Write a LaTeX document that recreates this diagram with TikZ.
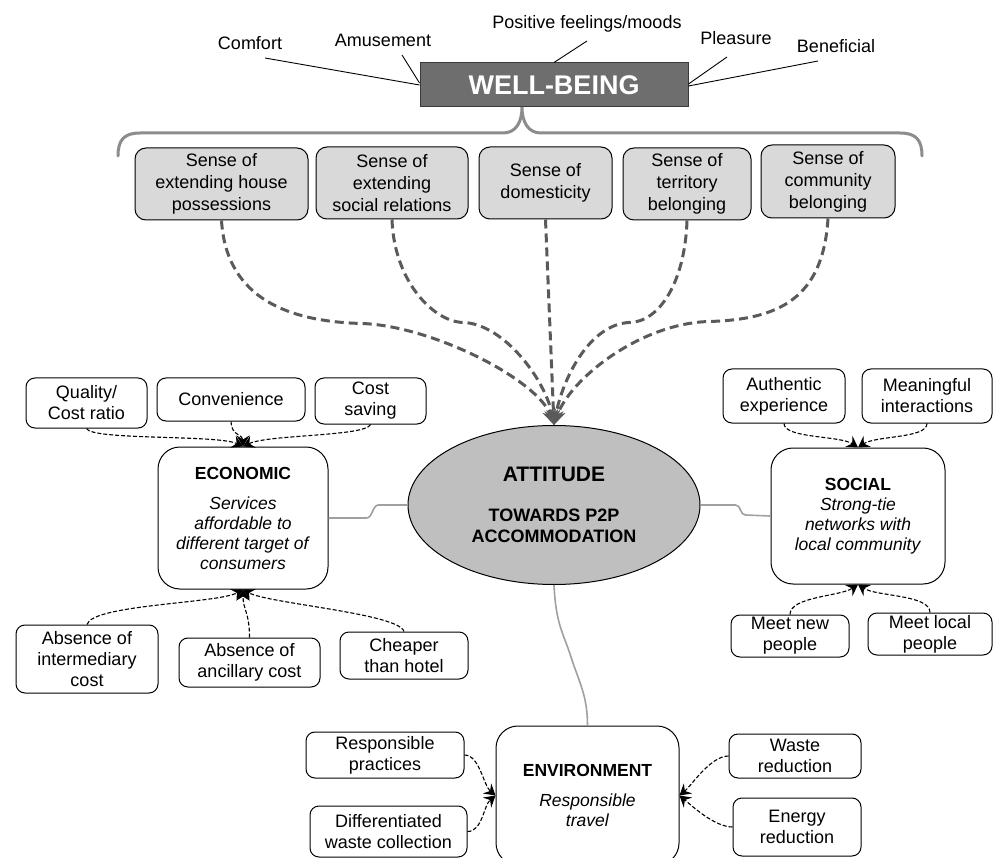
\documentclass[tikz,border=0pt]{standalone}
\usepackage{fontspec}
\setmainfont{Liberation Sans}
\usetikzlibrary{shapes.geometric,arrows.meta}
\definecolor{wbfill}{HTML}{6E6E6E}
\definecolor{wbedge}{HTML}{3A3A3A}
\definecolor{sensefill}{HTML}{D9D9D9}
\definecolor{ellfill}{HTML}{BFBFBF}
\definecolor{bracegray}{HTML}{8C8C8C}
\definecolor{flowgray}{HTML}{5A5A5A}
\definecolor{linkgray}{HTML}{A0A0A0}

\begin{document}
\begin{tikzpicture}[x=1pt,y=-1pt,
  every node/.style={font=\fontsize{18}{21}\selectfont, inner sep=0pt},
  sz/.style 2 args={minimum width=#1pt, minimum height=#2pt},
  box/.style={draw, rounded corners=9pt, line width=1pt, align=center},
  sensebox/.style={box, fill=sensefill, rounded corners=11pt, font=\fontsize{18}{22}\selectfont},
  bigbox/.style={draw, rounded corners=22pt, line width=1pt, align=center, fill=white, font=\fontsize{17.5}{20}\selectfont},
  feed/.style={draw, line width=1.1pt, dash pattern=on 4pt off 2pt, -{Stealth[length=11pt,width=13pt,inset=4pt,line width=1pt]}},
  flow/.style={draw=flowgray, line width=3pt, dash pattern=on 9pt off 5pt, -{Stealth[length=15pt,width=14pt]}},
  link/.style={draw=linkgray, line width=1.6pt},
  tick/.style={draw, line width=0.9pt},
]
\fill[white] (0,0) rectangle (993,858);
\useasboundingbox (0,0) rectangle (993,858);

% ---- well-being and its qualities
\node[draw=wbedge, fill=wbfill, line width=1pt, sz={268}{44}, text=white,
      font=\bfseries\fontsize{27}{30}\selectfont] (wb) at (554,85) {WELL-BEING};

\node (comfort)  at (250,43)   {Comfort};
\node (amuse)    at (383,40)   {Amusement};
\node (positive) at (587,24)   {Positive feelings/moods};
\node (pleasure) at (736,38)   {Pleasure};
\node (benef)    at (836,46)   {Beneficial};

\coordinate (comfortEnd)  at (265,58);
\coordinate (amuseEnd)    at (402,55);
\coordinate (positiveEnd) at (587,41);
\coordinate (pleasureEnd) at (727,57);
\coordinate (benefEnd)    at (818,61);

\draw[tick] (comfortEnd) -- (wb.west);
\draw[tick] (amuseEnd) -- ([yshift=2pt]wb.west);
\draw[tick] (positiveEnd) -- (wb.north);
\draw[tick] (pleasureEnd) -- ([yshift=1pt]wb.east);
\draw[tick] (benefEnd) -- ([yshift=-1pt]wb.east);

% ---- brace grouping the senses
\draw[bracegray, line width=3pt, line cap=round]
  (118,156) .. controls (118,140) and (124,133) .. (140,133) -- (503,133)
  .. controls (516,133) and (522,122) .. (522,107)
  .. controls (522,122) and (528,133) .. (541,133) -- (900,133)
  .. controls (916,133) and (922,140) .. (922,156);

% ---- senses
\node[sensebox, sz={173}{72}] (s1) at (221.5,184) {Sense of\\extending house\\possessions};
\node[sensebox, sz={152}{72}] (s2) at (392,183)   {Sense of\\extending\\social relations};
\node[sensebox, sz={133}{72}] (s3) at (545.5,183) {Sense of\\domesticity};
\node[sensebox, sz={128}{72}] (s4) at (687,184)   {Sense of\\territory\\belonging};
\node[sensebox, sz={134}{73}] (s5) at (828,181.5) {Sense of\\community\\belonging};

% ---- attitude
\node[ellipse, draw, fill=ellfill, line width=1pt, sz={292}{159}, align=center,
      font=\bfseries\fontsize{18}{21}\selectfont] (att) at (554,505)
  {{\fontsize{21}{25}\selectfont ATTITUDE}\\[19pt]TOWARDS P2P\\ACCOMMODATION};

\draw[flow] (s1.south) .. controls +(5,80) and +(-70,-2) .. ++(140,103)
            .. controls +(70,2) and +(-15,-45) .. (att.north);
\draw[flow] (s2.south) .. controls +(2,62) and +(-30,0) .. ++(72,103)
            .. controls +(40,2) and +(-8,-45) .. (att.north);
\draw[flow] (s3.south) -- (att.north);
\draw[flow] (s4.south) .. controls +(-2,62) and +(30,0) .. ++(-58,102)
            .. controls +(-40,2) and +(8,-45) .. (att.north);
\draw[flow] (s5.south) .. controls +(-5,80) and +(70,-2) .. ++(-119,103)
            .. controls +(-70,2) and +(15,-45) .. (att.north);

% ---- economic
\node[bigbox, sz={170}{142}] (econ) at (243,518)
  {\textbf{ECONOMIC}\\[10pt]\textit{Services}\\\textit{affordable to}\\\textit{different target of}\\\textit{consumers}};
\node[box, sz={121}{50}] (qual)   at (86.5,403)   {Quality/\\Cost ratio};
\node[box, sz={148}{43}] (conv)   at (231,399.5)  {Convenience};
\node[box, sz={111}{46}] (cost)   at (370.5,401)  {Cost\\saving};
\node[box, sz={142}{68}] (absint) at (87,659)     {Absence of\\intermediary\\cost};
\node[box, sz={141}{49}] (absanc) at (249.5,662.5){Absence of\\ancillary cost};
\node[box, sz={128}{47}] (cheap)  at (404,655.5)  {Cheaper\\than hotel};

\draw[feed] (qual.south) .. controls +(5,12) and +(-25,-12) .. (econ.north);
\draw[feed] (conv.south) .. controls +(0,14) and +(0,-12) .. (econ.north);
\draw[feed] (cost.south) .. controls +(-5,12) and +(25,-12) .. (econ.north);
\draw[feed] (absint.north) .. controls +(5,-20) and +(-25,14) .. (econ.south);
\draw[feed] (absanc.north) .. controls +(0,-25) and +(0,20) .. (econ.south);
\draw[feed] (cheap.north) .. controls +(-5,-18) and +(25,14) .. (econ.south);

% ---- social
\node[bigbox, sz={174}{136}] (social) at (858,516)
  {\textbf{SOCIAL}\\\textit{Strong-tie}\\\textit{networks with}\\\textit{local community}};
\node[box, sz={122}{54}] (auth)    at (784,396) {Authentic\\experience};
\node[box, sz={130}{54}] (mean)    at (927,396) {Meaningful\\interactions};
\node[box, sz={118}{42}] (meetnew) at (790,636) {Meet new\\people};
\node[box, sz={124}{42}] (meetloc) at (930,634) {Meet local\\people};

\draw[feed] (auth.south) .. controls +(0,15) and +(-18,-12) .. (social.north);
\draw[feed] (mean.south) .. controls +(0,15) and +(18,-12) .. (social.north);
\draw[feed] (meetnew.north) .. controls +(0,-18) and +(-18,12) .. (social.south);
\draw[feed] (meetloc.north) .. controls +(0,-18) and +(18,12) .. (social.south);

% ---- environment
\node[bigbox, sz={183}{139}] (env) at (587.5,795.5)
  {\textbf{ENVIRONMENT}\\[10pt]\textit{Responsible}\\\textit{travel}};
\node[box, sz={158}{46}] (resp)   at (385,755)   {Responsible\\practices};
\node[box, sz={157}{51}] (diff)   at (388.5,831.5) {Differentiated\\waste collection};
\node[box, sz={132}{44}] (waste)  at (795,756)   {Waste\\reduction};
\node[box, sz={128}{58}] (energy) at (797,827)   {Energy\\reduction};

\draw[feed] (resp.east) .. controls +(15,0) and +(-12,-10) .. (env.west);
\draw[feed] (diff.east) .. controls +(15,0) and +(-12,10) .. (env.west);
\draw[feed] (waste.west) .. controls +(-18,0) and +(12,-10) .. (env.east);
\draw[feed] (energy.west) .. controls +(-18,0) and +(12,10) .. (env.east);

% ---- links between the dimensions and the attitude
\draw[link] (econ.east) -- ++(38,0) .. controls +(6,0) and +(-6,0) .. ++(12,-13) -- (att.west);
\draw[link] (att.east) -- ++(35,0) .. controls +(6,0) and +(-6,0) .. ++(10,10) -- (social.west);
\draw[link] (att.south) .. controls +(2,40) and +(-8,-25) .. ++(17,72)
            .. controls +(8,25) and +(0,-30) .. (env.north);
\end{tikzpicture}
\end{document}
